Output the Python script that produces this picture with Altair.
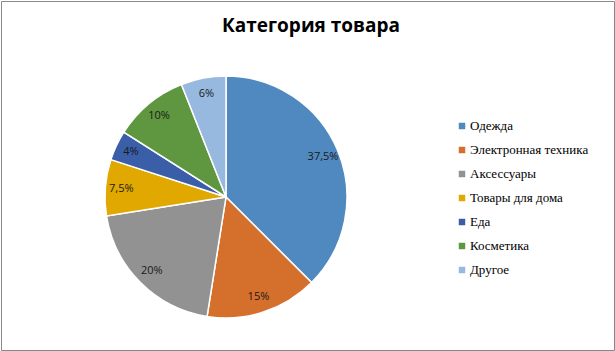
import altair as alt
import pandas as pd

categories = ["Одежда", "Электронная техника", "Аксессуары", "Товары для дома", "Еда", "Косметика", "Другое"]
values = [37.5, 15, 20, 7.5, 4, 10, 6]
labels = ["37,5%", "15%", "20%", "7,5%", "4%", "10%", "6%"]
colors = ["#4f89bf", "#d56f2c", "#929292", "#e0a800", "#3b5ea9", "#5f9640", "#97b8df"]

df = pd.DataFrame({"cat": categories, "val": values, "lbl": labels, "ord": list(range(len(values)))})

CX, CY, R = 225, 196, 121

color_enc = alt.Color("cat:N", scale=alt.Scale(domain=categories, range=colors),
                      sort=categories, legend=None)

base = alt.Chart(df).encode(
    theta=alt.Theta("val:Q", stack=True),
    order=alt.Order("ord:Q"),
)

pie = base.mark_arc(stroke="white", strokeWidth=1.5, radius=R).encode(
    x=alt.value(CX), y=alt.value(CY), color=color_enc,
)

txt = base.mark_text(radius=105, font="Open Sans", fontSize=11, color="#1a1a1a").encode(
    x=alt.value(CX), y=alt.value(CY), text="lbl:N"
)

title = alt.Chart(pd.DataFrame({"t": ["Категория товара"]})).mark_text(
    font="Open Sans", fontSize=19, fontWeight="bold", color="#000000"
).encode(x=alt.value(310), y=alt.value(25), text="t:N")

# legend drawn from the same category data through a point scale
leg_y = alt.Y("cat:N", sort=categories, axis=None,
              scale=alt.Scale(type="point", range=[125, 269], padding=0))
leg_sym = alt.Chart(df).mark_square(size=42, opacity=1).encode(
    x=alt.value(461), y=leg_y, color=color_enc)
leg_txt = alt.Chart(df).mark_text(font="Liberation Serif", fontSize=13, align="left",
                                  baseline="middle", color="#000000").encode(
    x=alt.value(469), y=leg_y, text="cat:N")

chart = alt.layer(pie, txt, title, leg_sym, leg_txt).properties(
    width=613, height=349,
    background="white",
    autosize=alt.AutoSizeParams(type="none"),
    padding={"left": 1, "top": 1, "right": 1, "bottom": 1},
).configure_view(stroke="#888888", strokeWidth=1)

chart.save("out.html", embed_options={"renderer": "svg", "actions": False})
